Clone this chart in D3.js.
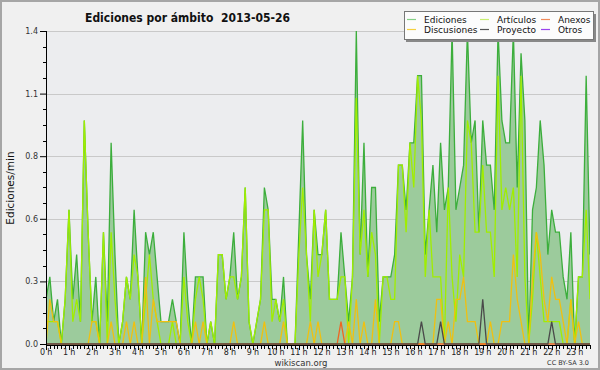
<!DOCTYPE html>
<html><head><meta charset="utf-8">
<script src="https://cdn.jsdelivr.net/npm/d3@7"></script>
<style>html,body{margin:0;padding:0;background:#f0f0f0;}svg{display:block;font-family:"DejaVu Sans",sans-serif;}</style>
</head><body>
<script>
// ---- data (10-minute slots, edits per minute) ----
const title = "Ediciones por ámbito\u00a0\u00a02013-05-26";
const hourLabels = ["0 h","1 h","2 h","3 h","4 h","5 h","6 h","7 h","8 h","9 h","10 h","11 h","12 h","13 h","14 h","15 h","16 h","17 h","18 h","19 h","20 h","21 h","22 h","23 h"];
const yTicks = [0, 0.28, 0.56, 0.84, 1.12, 1.4];
const ediciones = [0.2,0.3,0.1,0.2,0,0.2,0.6,0.2,0.4,0.1,1.0,0.5,0.1,0.3,0,0.5,0.1,0.9,0.4,0,
 0.1,0.3,0.2,0.6,0.3,0,0.5,0.4,0.5,0.3,0.1,0.1,0.1,0.2,0.1,0,0.5,0.2,0,0.3,
 0.3,0.3,0,0.1,0,0.4,0.4,0.2,0.3,0.5,0.2,0.3,0.7,0.1,0,0.1,0.2,0.7,0.6,0.2,
 0.2,0.1,0.3,0,0,0,0.5,1.0,0.4,0.2,0.6,0.4,0.4,0.6,0.2,0.2,0.2,0.5,0.3,0.1,
 0.3,1.4,0.4,0.9,0.3,0.7,0.7,0.1,0.3,0.3,0.3,0.4,0.8,0.8,0.6,0.9,0.9,1.2,1.2,0.4,
 0.6,0.8,0.5,0.9,0.6,0.7,1.4,0.6,0.7,0.8,1.4,0.9,1.0,0.5,1.0,0.8,0.8,0.6,1.4,1.0,
 0.9,0.9,1.4,0.7,1.3,1.0,0,0.6,0.7,1.0,0.8,0.4,0.6,0.5,0.5,0.3,0.2,0.5,0,0.3,
 0.3,1.2,0.4];
const articulos = [0.1,0.1,0.1,0.1,0,0.2,0.6,0.1,0.2,0.1,1.0,0.5,0.1,0.1,0,0.5,0,0.5,0.2,0,
 0.1,0.3,0.2,0.4,0.3,0,0.2,0.4,0.2,0.1,0,0,0,0.1,0,0,0.3,0.1,0,0.2,
 0.3,0.2,0,0.1,0,0.4,0.4,0.2,0.3,0.3,0.2,0.3,0.7,0.1,0,0.1,0.2,0.6,0.6,0.1,
 0.2,0.1,0.2,0,0,0,0.4,0.7,0.4,0.1,0.6,0.3,0.4,0.6,0.2,0.2,0.2,0.3,0.3,0,
 0.3,1.1,0.4,0.6,0.3,0.5,0.4,0,0.3,0.3,0.2,0.2,0.8,0.8,0.5,0.9,0.7,1.2,1.0,0.3,
 0.6,0.3,0.3,0.3,0,0.7,0.3,0.1,0.4,0.3,1.0,0.9,0.5,0.5,0.8,0.5,0.5,0.3,1.2,0.6,
 0.7,0.6,0.7,0.3,1.2,0.3,0,0.2,0.5,0.3,0.1,0.1,0.1,0.1,0.1,0,0,0.2,0,0.3,
 0.3,0.6,0.2];
const discusiones = [0,0.2,0.1,0.1,0,0,0,0,0,0,0,0,0.1,0.1,0,0,0,0.1,0,0,
 0,0.1,0,0.1,0,0,0.3,0,0.2,0.1,0.1,0.1,0.1,0.1,0.1,0,0,0,0,0.1,
 0,0.1,0,0,0,0,0,0,0,0.1,0,0,0,0,0,0,0,0.1,0,0,
 0,0,0.1,0,0,0,0,0,0,0.1,0,0.1,0,0,0,0,0,0,0,0.1,
 0,0.2,0,0.1,0,0,0.2,0,0,0,0,0.1,0.1,0,0,0,0,0,0,0,
 0,0,0.2,0.2,0,0.1,0,0.2,0.2,0.3,0.1,0.1,0.1,0,0,0,0.1,0,0,0.1,
 0.1,0.1,0.4,0.2,0.1,0,0,0.3,0.5,0.4,0.2,0.1,0.3,0.2,0.2,0.1,0,0.2,0,0.1,
 0,0,0];
const anexos = Array.from(ediciones, (d, i) => [77].includes(i) ? 0.1 : 0);
const proyecto = Array.from(ediciones, (d, i) => ({98:0.1,103:0.1,114:0.2,132:0.1})[i] || 0);
const otros = Array.from(ediciones, () => 0);

const series = [
  {name:"Ediciones", values:ediciones, color:"#3cae3c", legend:"#86d086"},
  {name:"Artículos", values:articulos, color:"#a0ee00", legend:"#c8ee70"},
  {name:"Anexos", values:anexos, color:"#ee6622", legend:"#f08a5a"},
  {name:"Discusiones", values:discusiones, color:"#f0c010", legend:"#f5d040"},
  {name:"Proyecto", values:proyecto, color:"#4a4a4a", legend:"#555555"},
  {name:"Otros", values:otros, color:"#9944ee", legend:"#9944ee"}
];

const W = 600, H = 370;
const svg = d3.select("body").append("svg").attr("width", W).attr("height", H);
svg.append("rect").attr("x",1).attr("y",1).attr("width",W-2).attr("height",H-2)
  .attr("fill","#f0f0f0").attr("stroke","#a6a6a6").attr("stroke-width",2);

const pL = 46, pR = 590, pT = 31, pB = 344;
const n = ediciones.length;
const x = d3.scaleLinear().domain([0, n - 1]).range([pL, pR]);
const y = d3.scaleLinear().domain([0, 1.4]).range([pB, pT]);

svg.append("rect").attr("x", pL).attr("y", pT).attr("width", pR-pL).attr("height", pB-pT).attr("fill","#ecedef");

// grid
svg.append("g").selectAll("line").data(yTicks.slice(1)).join("line")
  .attr("x1", pL).attr("x2", pR).attr("y1", d => Math.round(y(d))+0.5).attr("y2", d => Math.round(y(d))+0.5)
  .attr("stroke","#c9c9c9").attr("stroke-width",1);

// area + lines
svg.append("clipPath").attr("id","pc").append("rect").attr("x",pL).attr("y",pT-2).attr("width",pR-pL).attr("height",pB-pT+3);
const g = svg.append("g").attr("clip-path","url(#pc)");
const area = d3.area().x((d,i)=>x(i)).y0(y(0)).y1(d=>y(d));
g.append("path").datum(ediciones).attr("d", area).attr("fill","#9ccb9c");
const line = d3.line().x((d,i)=>x(i)).y(d=>y(d));
const order = ["Ediciones","Artículos","Discusiones","Anexos","Proyecto"];
order.forEach(nm => {
  const s = series.find(s => s.name === nm);
  g.append("path").datum(s.values).attr("d", line).attr("fill","none")
    .attr("stroke", s.color).attr("stroke-width", 1.3).attr("stroke-linejoin","miter");
});

// y axis
const yAxis = d3.axisLeft(y).tickValues(yTicks).tickFormat(d3.format(".1f")).tickSize(6).tickPadding(2);
const ya = svg.append("g").attr("transform",`translate(${pL},0)`).call(yAxis);
ya.select(".domain").attr("stroke","#000").attr("d", `M0.5,${pT}V${pB+1}`);
ya.selectAll(".tick line").attr("stroke","#000");
ya.selectAll("text").attr("font-size",8).attr("fill","#333").attr("font-family","DejaVu Sans");
const minor = d3.range(0, 1.4001, 0.07).filter(v => !yTicks.some(t => Math.abs(t - v) < 1e-6));
svg.append("g").selectAll("line").data(minor).join("line")
  .attr("x1", pL-3).attr("x2", pL).attr("y1", d=>Math.round(y(d))+0.5).attr("y2", d=>Math.round(y(d))+0.5)
  .attr("stroke","#000");

// x axis
const xa = svg.append("g").attr("transform",`translate(0,${pB+1})`);
xa.append("line").attr("x1",pL).attr("x2",pR).attr("y1",0.5).attr("y2",0.5).attr("stroke","#000");
xa.selectAll("line.t").data(d3.range(0, n)).join("line").attr("class","t")
  .attr("x1", d=>Math.round(x(d))+0.5).attr("x2", d=>Math.round(x(d))+0.5)
  .attr("y1", 0).attr("y2", d => d % 6 === 0 ? 5 : 4).attr("stroke","#000");
xa.selectAll("text").data(hourLabels).join("text")
  .attr("x", (d,i)=>x(i*6)).attr("y", 9.5).attr("text-anchor","middle")
  .attr("font-size",8).attr("letter-spacing",-0.2).attr("fill","#222").text(d=>d);

// titles
svg.append("text").attr("x",85).attr("y",22).attr("font-size",12.5).attr("font-weight","bold")
  .attr("textLength",205).attr("lengthAdjust","spacingAndGlyphs").attr("fill","#111").text(title);
svg.append("text").attr("transform",`translate(14,188) rotate(-90)`).attr("text-anchor","middle")
  .attr("font-size",10.5).attr("fill","#111").text("Ediciones/min");
svg.append("text").attr("x",301).attr("y",366).attr("text-anchor","middle").attr("font-size",8.5).attr("fill","#333").text("wikiscan.org");
svg.append("text").attr("x",589).attr("y",365).attr("text-anchor","end").attr("font-size",6.5).attr("fill","#333").text("CC BY-SA 3.0");

// legend
const lg = svg.append("g");
lg.append("rect").attr("x",406).attr("y",14).attr("width",190).attr("height",28).attr("fill","#888");
lg.append("rect").attr("x",404.5).attr("y",11.5).attr("width",189).attr("height",28).attr("fill","#fcfcfc").attr("stroke","#777");
const colX = [406, 479, 540];
series.forEach((s, k) => {
  const c = k % 3, r = Math.floor(k / 3);
  const yy = 19 + r * 10;
  lg.append("line").attr("x1", colX[c]+1).attr("x2", colX[c]+10).attr("y1", yy+0.5).attr("y2", yy+0.5).attr("stroke", s.legend).attr("stroke-width",1.2);
  lg.append("text").attr("x", colX[c]+18).attr("y", yy+3.5).attr("font-size",9).attr("fill","#111").text(s.name);
});
</script>
</body></html>
